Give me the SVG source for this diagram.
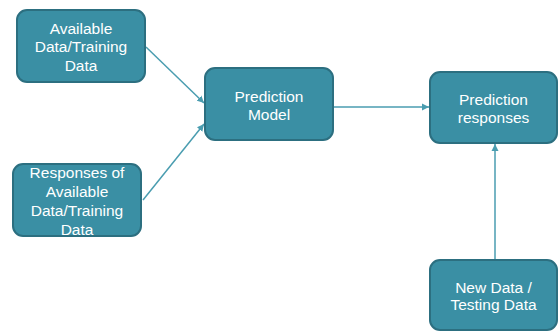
<svg xmlns="http://www.w3.org/2000/svg" width="558" height="331" viewBox="0 0 558 331">
<style>
.box{fill:#3A8FA4;stroke:#2C6F80;stroke-width:2}
.t{font-family:"Liberation Sans",Arial,sans-serif;font-size:15.5px;fill:#FFFFFF;text-anchor:middle}
.c{stroke:#4A9DB0;stroke-width:1.5;fill:none;marker-end:url(#ah)}
</style>
<defs>
<marker id="ah" markerWidth="8" markerHeight="8" refX="7" refY="4" orient="auto" markerUnits="userSpaceOnUse">
<path d="M0,0.5 L7,4 L0,7.5 Z" fill="#4A9DB0"/>
</marker>
</defs>
<rect width="558" height="331" fill="#FFFFFF"/>
<g id="connectors">
<line class="c" x1="146" y1="47" x2="204" y2="103"/>
<line class="c" x1="143" y1="200" x2="204" y2="124"/>
<line class="c" x1="334" y1="107" x2="429" y2="107"/>
<line class="c" x1="495" y1="260" x2="495" y2="144"/>
</g>
<g id="training">
<rect class="box" x="17" y="10" width="128" height="72" rx="10"/>
<text class="t" x="81" y="33.5">Available</text>
<text class="t" x="81" y="52">Data/Training</text>
<text class="t" x="81" y="70.5">Data</text>
</g>
<g id="responses">
<rect class="box" x="13" y="164" width="128" height="72" rx="10"/>
<text class="t" x="77" y="177.5">Responses of</text>
<text class="t" x="77" y="196.5">Available</text>
<text class="t" x="77" y="215.5">Data/Training</text>
<text class="t" x="77" y="234.5">Data</text>
</g>
<g id="model">
<rect class="box" x="205" y="68" width="128" height="72" rx="10"/>
<text class="t" x="269" y="101.5">Prediction</text>
<text class="t" x="269" y="119.5">Model</text>
</g>
<g id="predresp">
<rect class="box" x="430" y="72" width="127" height="71" rx="10"/>
<text class="t" x="493.5" y="104.5">Prediction</text>
<text class="t" x="493.5" y="122.5">responses</text>
</g>
<g id="newdata">
<rect class="box" x="430" y="260" width="127" height="70" rx="10"/>
<text class="t" x="493.5" y="292.5">New Data /</text>
<text class="t" x="493.5" y="310">Testing Data</text>
</g>
</svg>
